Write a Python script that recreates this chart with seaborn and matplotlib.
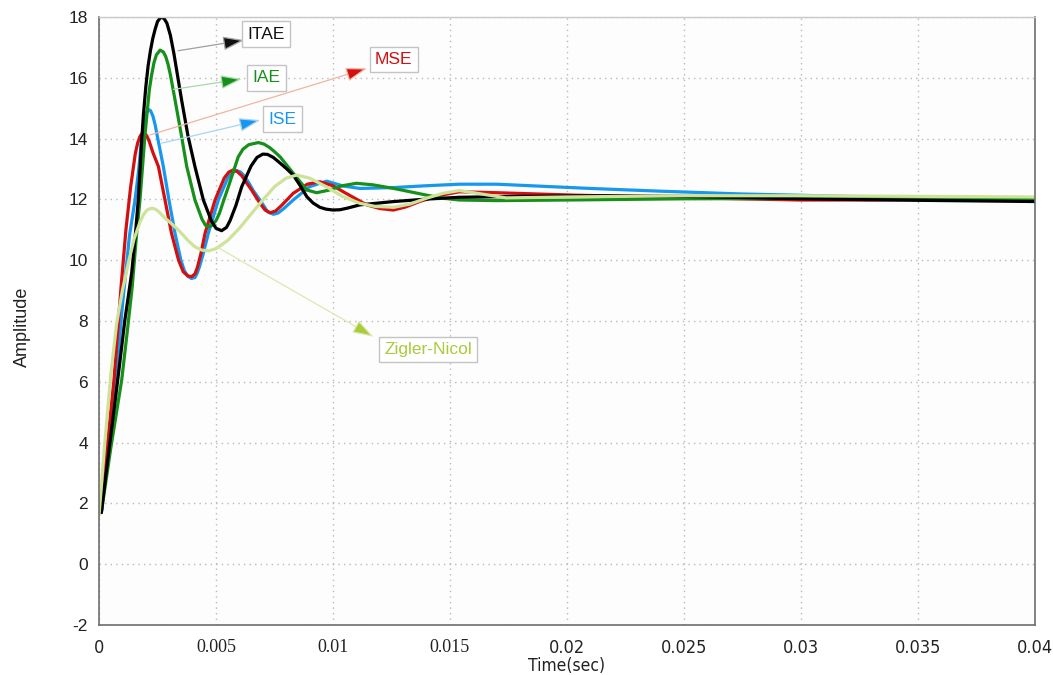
import numpy as np
import pandas as pd
import matplotlib
matplotlib.use("Agg")
import matplotlib.pyplot as plt
from matplotlib import font_manager as fm
from matplotlib.patches import ArrowStyle
import seaborn as sns

# ---- step responses (time in ms, amplitude) ----
itae_t = [0.1, 0.45, 0.8, 1.1, 1.4, 1.55, 1.68, 1.82, 1.9, 2.0, 2.1, 2.2, 2.3, 2.4, 2.5, 2.65,
          2.78, 2.9, 3.05, 3.2, 3.53, 3.8, 4.1, 4.46, 4.8, 5.0, 5.24, 5.45, 5.6, 5.85, 6.1, 6.5,
          6.75, 7.0, 7.2, 7.45, 7.7, 8.0, 8.3, 8.6, 8.88, 9.15, 9.44, 9.7, 10.0, 10.3, 10.6,
          11.15, 12.6, 14.0, 15.4, 18.0, 21.7, 25.0, 30.0, 35.0, 40.0]
itae_y = [1.7, 3.9, 6.06, 8.0, 9.6, 10.8, 12.0, 13.9, 14.8, 15.7, 16.4, 16.9, 17.3, 17.6, 17.85, 18.0,
          17.95, 17.8, 17.4, 16.8, 15.27, 14.1, 13.08, 11.98, 11.3, 11.05, 10.97, 11.08, 11.3, 11.8, 12.42, 13.1,
          13.38, 13.49, 13.48, 13.38, 13.22, 13.02, 12.8, 12.45, 12.09, 11.88, 11.74, 11.68, 11.65, 11.66, 11.71,
          11.82, 11.93, 12.01, 12.07, 12.1, 12.12, 12.1, 12.02, 11.97, 11.93]

iae_t = [0.1, 0.5, 0.97, 1.2, 1.42, 1.6, 1.75, 1.97, 2.15, 2.25, 2.35, 2.45, 2.61, 2.75, 2.85, 2.95,
         3.05, 3.25, 3.5, 3.75, 4.1, 4.4, 4.55, 4.67, 4.8, 5.0, 5.15, 5.3, 5.53, 5.95, 6.15, 6.4,
         6.81, 7.05, 7.3, 7.5, 7.74, 8.3, 8.88, 9.3, 9.8, 10.4, 11.0, 11.7, 12.6, 13.3, 14.0,
         14.7, 15.4, 17.0, 20.0, 25.0, 30.0, 35.0, 40.0]
iae_y = [1.7, 3.8, 6.06, 7.6, 9.13, 10.8, 11.98, 14.17, 15.6, 16.1, 16.5, 16.75, 16.91, 16.85, 16.7, 16.45,
         16.1, 15.27, 14.2, 13.08, 11.98, 11.35, 11.15, 11.1, 11.13, 11.3, 11.55, 11.9, 12.42, 13.4, 13.65, 13.8,
         13.87, 13.82, 13.7, 13.57, 13.4, 12.86, 12.31, 12.22, 12.3, 12.45, 12.53, 12.48, 12.36, 12.25, 12.14,
         12.04, 11.98, 11.96, 11.98, 12.02, 12.03, 12.03, 12.03]

ise_t = [0.1, 0.4, 0.72, 1.0, 1.3, 1.54, 1.7, 1.82, 1.95, 2.03, 2.11, 2.2, 2.3, 2.4, 2.5, 2.75,
         2.99, 3.25, 3.5, 3.65, 3.8, 3.95, 4.1, 4.2, 4.3, 4.45, 4.67, 5.1, 5.5, 5.7, 5.88, 6.05,
         6.2, 6.4, 6.6, 6.88, 7.2, 7.45, 7.65, 7.9, 8.3, 9.0, 9.73, 10.44, 11.15, 12.6, 14.0,
         15.4, 17.0, 21.0, 24.0, 27.4, 32.0, 36.0, 40.0]
ise_y = [1.7, 4.0, 6.06, 8.5, 10.8, 11.98, 13.0, 14.0, 14.6, 14.85, 14.96, 14.92, 14.75, 14.45, 14.05, 13.08,
         11.98, 10.88, 10.0, 9.65, 9.47, 9.4, 9.43, 9.58, 9.8, 10.2, 10.88, 11.98, 12.7, 12.88, 12.95, 12.9,
         12.78, 12.55, 12.28, 11.98, 11.6, 11.51, 11.55, 11.7, 11.98, 12.42, 12.6, 12.44, 12.36, 12.39, 12.45,
         12.5, 12.5, 12.36, 12.27, 12.18, 12.1, 12.06, 12.04]

mse_t = [0.1, 0.35, 0.64, 0.94, 1.15, 1.35, 1.55, 1.65, 1.75, 1.85, 1.95, 2.05, 2.15, 2.3, 2.54, 2.82,
         3.1, 3.4, 3.6, 3.8, 3.96, 4.1, 4.2, 4.35, 4.53, 4.96, 5.35, 5.55, 5.74, 5.9, 6.1, 6.3,
         6.52, 6.88, 7.1, 7.31, 7.55, 7.8, 8.3, 8.9, 9.44, 10.0, 10.44, 11.44, 12.0, 12.58, 13.1,
         13.7, 14.5, 15.4, 17.0, 20.3, 24.0, 27.4, 30.0, 33.0, 36.0, 40.0]
mse_y = [1.7, 3.9, 6.06, 9.1, 11.0, 12.4, 13.5, 13.85, 14.07, 14.18, 14.18, 14.08, 13.9, 13.55, 13.08, 11.98,
         10.88, 10.0, 9.62, 9.48, 9.46, 9.55, 9.75, 10.2, 10.88, 11.98, 12.7, 12.9, 12.97, 12.92, 12.78, 12.55,
         12.31, 11.87, 11.65, 11.56, 11.62, 11.8, 12.2, 12.5, 12.58, 12.45, 12.25, 11.82, 11.7, 11.65, 11.75,
         11.93, 12.12, 12.25, 12.22, 12.14, 12.08, 12.02, 11.98, 11.98, 12.0, 12.0]

zn_t = [0.0, 0.25, 0.5, 0.75, 1.0, 1.25, 1.5, 1.75, 1.9, 2.05, 2.25, 2.4, 2.55, 2.8, 3.1, 3.4,
        3.8, 4.1, 4.4, 4.7, 5.0, 5.5, 6.0, 6.5, 7.0, 7.5, 8.0, 8.45, 9.0, 9.7, 10.4, 11.15,
        11.8, 12.6, 13.3, 14.0, 14.7, 15.4, 16.0, 17.4, 20.0, 25.0, 30.0, 35.0, 40.0]
zn_y = [1.6, 4.0, 6.2, 7.9, 9.0, 9.9, 10.7, 11.25, 11.5, 11.65, 11.71, 11.68, 11.6, 11.4, 11.2, 10.99,
        10.65, 10.44, 10.33, 10.31, 10.38, 10.65, 11.05, 11.52, 11.98, 12.42, 12.7, 12.8, 12.7, 12.42, 12.1, 11.87,
        11.77, 11.74, 11.85, 12.04, 12.2, 12.29, 12.22, 12.05, 12.08, 12.12, 12.12, 12.1, 12.08]

methods = ["ISE", "MSE", "IAE", "ITAE", "Zigler-Nicol"]
series = {"ISE": (ise_t, ise_y), "MSE": (mse_t, mse_y), "IAE": (iae_t, iae_y),
          "ITAE": (itae_t, itae_y), "Zigler-Nicol": (zn_t, zn_y)}
palette = {"ITAE": "#000000", "IAE": "#17901b", "ISE": "#1798ee",
           "MSE": "#d30f10", "Zigler-Nicol": "#cde39a"}
label_colors = {"ITAE": "#111111", "IAE": "#17901b", "ISE": "#1798ee",
                "MSE": "#d30f10", "Zigler-Nicol": "#a9cb3c"}
arrow_line_colors = {"ITAE": "#a0a0a0", "IAE": "#a8d8a8", "ISE": "#a8d4f4",
                     "MSE": "#f2b4a0", "Zigler-Nicol": "#dbe9b0"}

y_ticks = [-2, 0, 2, 4, 6, 8, 10, 12, 14, 16, 18]
x_ticks = [0, 0.005, 0.01, 0.015, 0.02, 0.025, 0.03, 0.035, 0.04]
x_tick_labels = ["0", "0.005", "0.01", "0.015", "0.02", "0.025", "0.03", "0.035", "0.04"]
serif_ticks = {"0.005", "0.01", "0.015"}

frames = []
for name in methods:
    t, y = series[name]
    frames.append(pd.DataFrame({"Time": np.asarray(t) / 1000.0, "Amplitude": y, "Method": name}))
df = pd.concat(frames, ignore_index=True)


def narrow_font(size):
    """Condensed sans face if one is installed, otherwise a regular sans."""
    for fam in ["Liberation Sans Narrow", "DejaVu Sans"]:
        try:
            prop = fm.FontProperties(family=fam, stretch="condensed", size=size)
            path = fm.findfont(prop, fallback_to_default=False)
            if "Narrow" in path or "Condensed" in path:
                return prop
        except Exception:
            pass
    return fm.FontProperties(family="Liberation Sans", size=size - 1)


sns.set_theme(style="white")
plt.rcParams["font.family"] = ["Liberation Sans", "DejaVu Sans"]

fig = plt.figure(figsize=(10.53, 6.75), dpi=100)
ax = fig.add_axes([99 / 1053, 50 / 675, 936 / 1053, 608 / 675])

sns.lineplot(data=df, x="Time", y="Amplitude", hue="Method", hue_order=methods,
             palette=palette, linewidth=2.3, legend=False, ax=ax, estimator=None, sort=False,
             solid_joinstyle="round", solid_capstyle="round")

ax.set_xlim(0, 0.04)
ax.set_ylim(-2, 18)
ax.set_yticks(y_ticks)
ax.set_yticklabels([str(v) for v in y_ticks], fontsize=12.5, color="#222222")
ax.set_xticks(x_ticks)
ax.set_xticklabels(x_tick_labels, fontsize=12.5, color="#222222")
for lab in ax.get_xticklabels():
    if lab.get_text() in serif_ticks:
        lab.set_fontfamily("Liberation Serif")
        lab.set_fontsize(13)
    else:
        lab.set_fontproperties(narrow_font(13))
ax.tick_params(axis="x", length=0, pad=10)
ax.tick_params(axis="y", length=0, pad=8)

ax.grid(True, color="#b9b9b9", linestyle=(0, (1, 3)), linewidth=1.0)
ax.set_facecolor("#fdfdfd")
for side in ["left", "bottom", "right"]:
    ax.spines[side].set_color("#6e6e6e")
    ax.spines[side].set_linewidth(1.2)
ax.spines["top"].set_color("#c8c8c8")
ax.spines["top"].set_linewidth(1.0)

ax.set_xlabel("Time(sec)", fontproperties=narrow_font(12.5), color="#222222")
ax.xaxis.set_label_coords(0.5, -0.052)
ax.set_ylabel("Amplitude", fontsize=13, color="#222222")
ax.yaxis.set_label_coords(-0.073, 0.49)

# callouts: (arrow start, arrow tip, label centre), time in ms
callouts = {
    "ITAE": ((3.38, 16.89), (6.2, 17.24), (7.15, 17.44)),
    "IAE": ((3.18, 15.62), (6.1, 15.96), (7.15, 16.0)),
    "ISE": ((2.68, 13.85), (6.89, 14.61), (7.85, 14.64)),
    "MSE": ((2.18, 14.12), (11.45, 16.31), (12.6, 16.61)),
    "Zigler-Nicol": ((5.03, 10.44), (11.73, 7.48), (14.07, 7.06)),
}
head = ArrowStyle("-|>", head_length=1.0, head_width=0.33)
for name, (start, tip, centre) in callouts.items():
    ax.annotate("", xy=(tip[0] / 1000, tip[1]), xytext=(start[0] / 1000, start[1]),
                arrowprops=dict(arrowstyle=head, mutation_scale=13, shrinkA=0, shrinkB=0,
                                fc=label_colors[name], ec=arrow_line_colors[name], lw=0.9),
                zorder=5)
    ax.text(centre[0] / 1000, centre[1], name, ha="center", va="center", fontsize=12.5,
            color=label_colors[name], zorder=6,
            bbox=dict(boxstyle="square,pad=0.3", fc="white", ec="#c4c4c4", lw=1.0))

fig.savefig("out.png", dpi=100, facecolor="white")
